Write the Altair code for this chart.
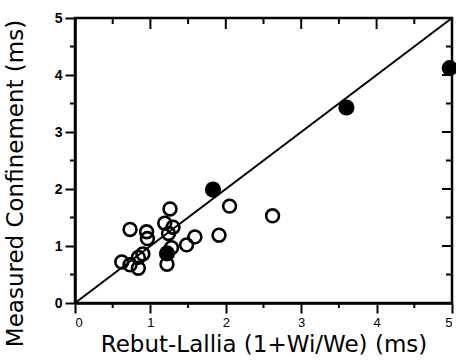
import altair as alt
import pandas as pd

# Data
open_x = [0.62, 0.73, 0.84, 0.84, 0.90, 0.73, 0.95, 0.96, 1.19, 1.24, 1.30, 1.26, 1.28, 1.22, 1.48, 1.59, 1.91, 2.05, 2.62]
open_y = [0.72, 0.67, 0.61, 0.80, 0.86, 1.29, 1.25, 1.13, 1.40, 1.22, 1.33, 1.65, 0.97, 0.68, 1.02, 1.16, 1.19, 1.70, 1.53]
filled_x = [1.22, 1.83, 3.60, 4.97]
filled_y = [0.87, 1.99, 3.43, 4.12]
line_x = [0, 5]
line_y = [0, 5]
major_ticks = [0, 1, 2, 3, 4, 5]
minor_ticks = [0.5, 1.5, 2.5, 3.5, 4.5]

W, H = 377, 285
FONT = "Liberation Sans"
TFONT = "DejaVu Sans"

xs = alt.Scale(domain=[0, 5], nice=False, zero=False)
ys = alt.Scale(domain=[0, 5], nice=False, zero=False)

xaxis = alt.Axis(values=major_ticks, format="d", tickSize=10, tickWidth=2, domainWidth=2.5,
                 domainColor="black", tickColor="black", labelFont=FONT, labelFontSize=13,
                 labelColor="black", labelPadding=3, grid=False, title="Rebut-Lallia (1+Wi/We) (ms)",
                 titleFont=TFONT, titleFontSize=23, titleFontWeight="normal", titleColor="black",
                 titlePadding=4)
yaxis = alt.Axis(values=major_ticks, format="d", tickSize=10, tickWidth=2, domainWidth=2.5,
                 domainColor="black", tickColor="black", labelFont=FONT, labelFontSize=14,
                 labelFontWeight="bold", labelColor="black", labelPadding=3, grid=False,
                 title="Measured Confinement (ms)", titleFont=TFONT, titleFontSize=23,
                 titleFontWeight="normal", titleColor="black", titleAngle=270,
                 titleAlign="center", titleBaseline="middle", titleX=-60, titleY=165)

line_df = pd.DataFrame({"x": line_x, "y": line_y})
open_df = pd.DataFrame({"x": open_x, "y": open_y})
filled_df = pd.DataFrame({"x": filled_x, "y": filled_y})
major_df = pd.DataFrame({"v": major_ticks})
minor_df = pd.DataFrame({"v": minor_ticks})

line = alt.Chart(line_df).mark_line(color="black", strokeWidth=2).encode(
    x=alt.X("x:Q", scale=xs, axis=xaxis),
    y=alt.Y("y:Q", scale=ys, axis=yaxis),
)
opens = alt.Chart(open_df).mark_point(shape="circle", filled=False, color="black",
                                      strokeWidth=2.6, size=165, opacity=1, clip=False).encode(
    x=alt.X("x:Q", scale=xs), y=alt.Y("y:Q", scale=ys))
fills = alt.Chart(filled_df).mark_circle(color="black", size=260, opacity=1, clip=False).encode(
    x=alt.X("x:Q", scale=xs), y=alt.Y("y:Q", scale=ys))

rule = dict(color="black", strokeWidth=2)
bottom_minor = alt.Chart(minor_df).mark_rule(**rule).encode(
    x=alt.X("v:Q", scale=xs), y=alt.value(H), y2=alt.value(H + 5))
left_minor = alt.Chart(minor_df).mark_rule(**rule).encode(
    y=alt.Y("v:Q", scale=ys), x=alt.value(0), x2=alt.value(-5))
top_major = alt.Chart(major_df).mark_rule(**rule).encode(
    x=alt.X("v:Q", scale=xs), y=alt.value(0), y2=alt.value(11))
top_minor = alt.Chart(minor_df).mark_rule(**rule).encode(
    x=alt.X("v:Q", scale=xs), y=alt.value(0), y2=alt.value(6))
right_major = alt.Chart(major_df).mark_rule(**rule).encode(
    y=alt.Y("v:Q", scale=ys), x=alt.value(W), x2=alt.value(W - 10))
right_minor = alt.Chart(minor_df).mark_rule(**rule).encode(
    y=alt.Y("v:Q", scale=ys), x=alt.value(W), x2=alt.value(W - 6))

chart = alt.layer(line, opens, fills, bottom_minor, left_minor, top_major, top_minor,
                  right_major, right_minor).properties(
    width=W, height=H,
    autosize=alt.AutoSizeParams(type="none"),
    padding={"left": 75, "top": 18, "right": 4, "bottom": 60},
    background="white",
).configure_view(stroke="black", strokeWidth=2.5)

chart.save("out.html", embed_options={"renderer": "svg", "actions": False})
